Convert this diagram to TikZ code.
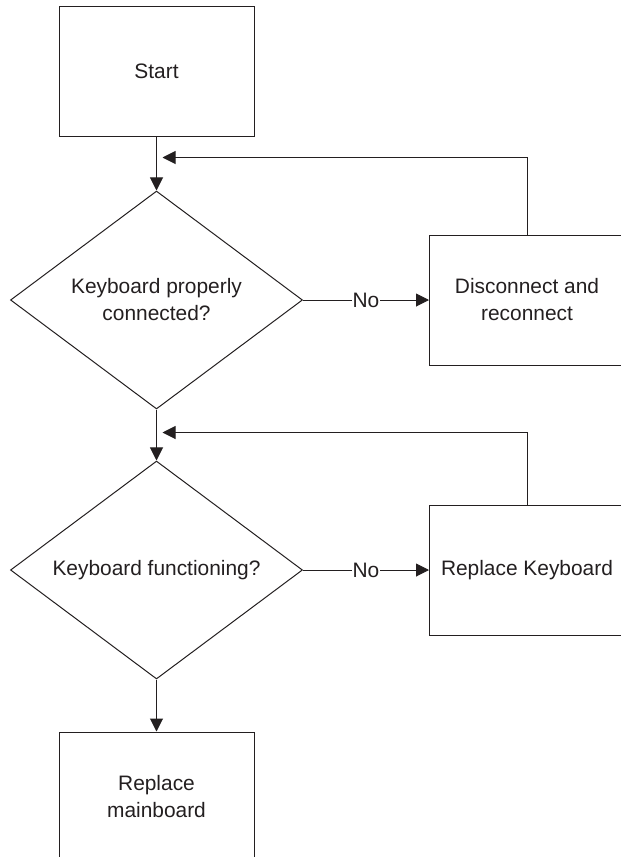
\documentclass[tikz,border=0pt]{standalone}
\usepackage{fontspec}
\setmainfont{Liberation Sans}
\usepackage{tikz}
\usetikzlibrary{arrows.meta, positioning, shapes.geometric}
\definecolor{fcline}{RGB}{35,31,32}
\newcommand{\fcfont}{\fontsize{20.9pt}{27pt}\selectfont}

\begin{document}
\begin{tikzpicture}[
    x=1pt, y=-1pt,
    stepbox/.style={rectangle, draw=fcline, line width=1pt,
        minimum width=195pt, minimum height=130pt, align=center,
        text=fcline, font=\fcfont},
    decision/.style={diamond, draw=fcline, line width=1pt, aspect=1.34,
        minimum width=292pt, minimum height=218pt, inner sep=0pt,
        align=center, text=fcline, font=\fcfont},
    arrow/.style={-{Triangle[width=13pt,length=13pt]}, line width=1pt, color=fcline},
    nolabel/.style={fill=white, inner sep=1pt, text=fcline, font=\fcfont}
]
\useasboundingbox (0,0) rectangle (621,857);

\node[stepbox] (start) at (156.5,71) {Start};
\node[decision, below=54pt of start] (plugged) {Keyboard properly\\connected?};
\node[stepbox, right=126pt of plugged] (reseat) {Disconnect and\\reconnect};
\node[decision, below=51pt of plugged] (works) {Keyboard functioning?};
\node[stepbox, right=126pt of works] (newkb) {Replace Keyboard};
\node[stepbox, below=52pt of works] (newmb) {Replace\\mainboard};

\coordinate[below right=21pt and 6pt of start.south] (loopA);
\coordinate[below right=23pt and 6pt of plugged.south] (loopB);

\draw[arrow] (start)   -- (plugged);
\draw[arrow] (plugged) -- node[nolabel]{No} (reseat);
\draw[arrow] (reseat.north) |- (loopA);
\draw[arrow] (plugged) -- (works);
\draw[arrow] (works)   -- node[nolabel]{No} (newkb);
\draw[arrow] (newkb.north) |- (loopB);
\draw[arrow] (works)   -- (newmb);
\end{tikzpicture}
\end{document}
